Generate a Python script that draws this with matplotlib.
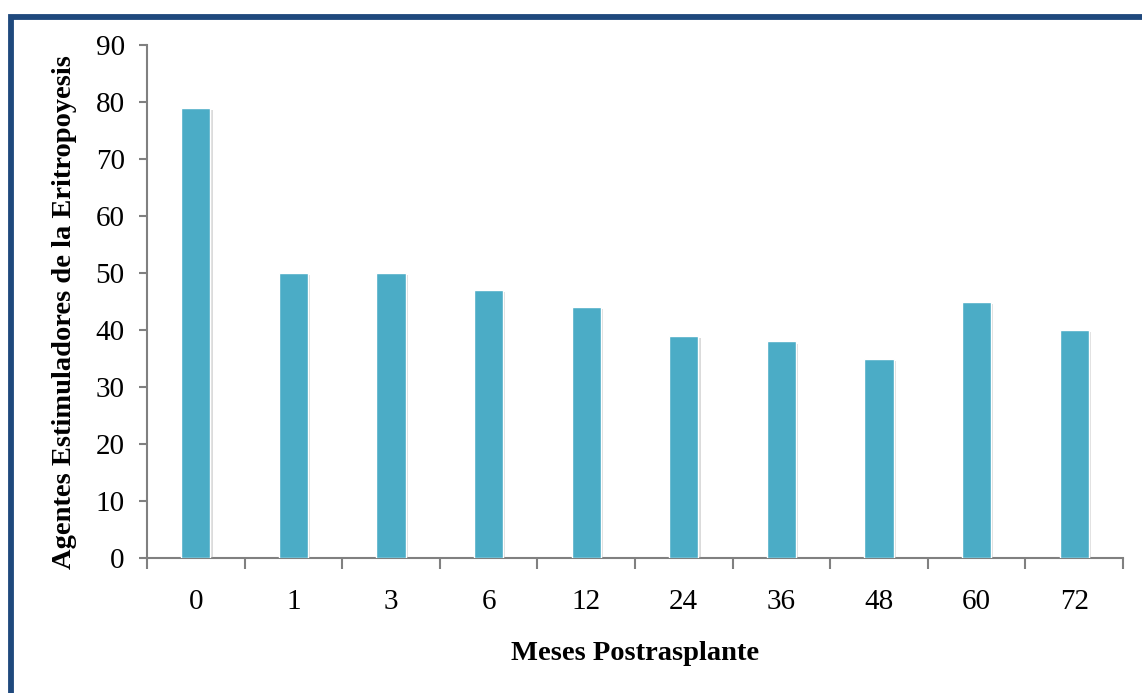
import matplotlib.pyplot as plt
import matplotlib.patches as patches
import matplotlib.patheffects as pe
import numpy as np

# Data
months = ["0", "1", "3", "6", "12", "24", "36", "48", "60", "72"]
esa_values = [79, 50, 50, 47, 44, 39, 38, 35, 45, 40]

plt.rcParams['font.family'] = ['Liberation Serif', 'DejaVu Serif']

fig = plt.figure(figsize=(11.42, 6.93), dpi=100)
ax = fig.add_axes([0.1287, 0.1948, 0.8547, 0.7402])

x = np.arange(len(months))
bars = ax.bar(x, esa_values, width=0.3, color="#4BACC6", edgecolor="white", linewidth=1.0, zorder=3)
for b in bars:
    b.set_path_effects([pe.SimplePatchShadow(offset=(1.5, -1.5), shadow_rgbFace="#999999", alpha=0.35),
                        pe.Normal()])

ax.set_xlim(-0.5, len(months) - 0.5)
ax.set_ylim(0, 90)
ax.set_yticks(np.arange(0, 91, 10))
ax.set_xticks(x)
ax.set_xticklabels(months)
ax.set_xticks(np.arange(-0.5, len(months), 1), minor=True)
ax.tick_params(axis="x", which="major", length=0, pad=22, labelsize=21)
ax.tick_params(axis="x", which="minor", length=8, width=1.5, color="#808080")
ax.tick_params(axis="y", length=6, width=1.5, color="#808080", labelsize=21, pad=10)

for side in ["top", "right"]:
    ax.spines[side].set_visible(False)
for side in ["left", "bottom"]:
    ax.spines[side].set_color("#808080")
    ax.spines[side].set_linewidth(1.5)

ax.set_xlabel("Meses Postrasplante", fontsize=20.5, fontweight="bold", labelpad=19)
ax.set_ylabel("Agentes Estimuladores de la Eritropoyesis", fontsize=20.5, fontweight="bold")
ax.yaxis.set_label_coords(-0.072, 0.48)

# dark blue frame (only top and left edges inside the picture)
frame = patches.Rectangle((11 / 1142, -0.2), 1.5, 1.2 - 16.5 / 693,
                          transform=fig.transFigure, fill=False,
                          edgecolor="#1F497D", linewidth=4.2, clip_on=False)
fig.patches.append(frame)

fig.savefig("out.png", dpi=100)
